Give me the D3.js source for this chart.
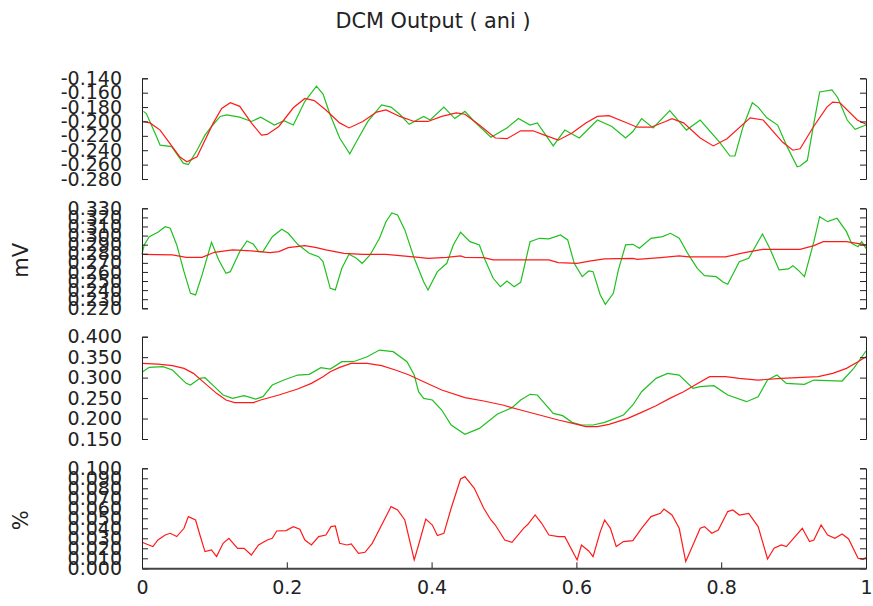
<!DOCTYPE html>
<html>
<head>
<meta charset="utf-8">
<script src="https://cdn.jsdelivr.net/npm/d3@7"></script>
<style>
  body { margin: 0; background: #fff; }
  text { font-family: "DejaVu Sans", sans-serif; fill: #222; }
</style>
</head>
<body>
<script>
// ---- data: [t, value] ----
var aniRed = [[0.002,-0.200],[0.011,-0.202],[0.025,-0.212],[0.052,-0.249],[0.062,-0.256],[0.076,-0.249],[0.098,-0.203],[0.110,-0.182],[0.122,-0.174],[0.135,-0.179],
  [0.151,-0.202],[0.165,-0.219],[0.173,-0.218],[0.189,-0.207],[0.209,-0.181],[0.225,-0.168],[0.238,-0.171],[0.254,-0.184],[0.273,-0.202],[0.286,-0.209],
  [0.305,-0.200],[0.324,-0.187],[0.337,-0.184],[0.356,-0.193],[0.376,-0.200],[0.395,-0.200],[0.414,-0.193],[0.434,-0.188],[0.446,-0.190],[0.466,-0.205],
  [0.488,-0.223],[0.504,-0.224],[0.523,-0.213],[0.540,-0.213],[0.556,-0.219],[0.575,-0.226],[0.594,-0.216],[0.613,-0.202],[0.629,-0.193],[0.645,-0.192],
  [0.665,-0.200],[0.684,-0.208],[0.703,-0.208],[0.723,-0.200],[0.732,-0.196],[0.748,-0.202],[0.771,-0.223],[0.789,-0.234],[0.808,-0.224],[0.840,-0.195],
  [0.858,-0.198],[0.885,-0.229],[0.899,-0.240],[0.909,-0.238],[0.927,-0.208],[0.946,-0.180],[0.954,-0.173],[0.964,-0.174],[0.988,-0.198],[1.000,-0.204]];
var aniGreen = [[0.002,-0.186],[0.006,-0.189],[0.020,-0.221],[0.025,-0.233],[0.041,-0.235],[0.057,-0.258],[0.064,-0.260],[0.076,-0.240],[0.087,-0.219],[0.096,-0.207],
  [0.108,-0.193],[0.117,-0.191],[0.135,-0.194],[0.151,-0.200],[0.164,-0.194],[0.183,-0.205],[0.196,-0.199],[0.209,-0.205],[0.225,-0.172],[0.241,-0.151],
  [0.250,-0.162],[0.260,-0.191],[0.273,-0.223],[0.287,-0.245],[0.299,-0.223],[0.312,-0.200],[0.331,-0.177],[0.344,-0.180],[0.357,-0.191],[0.369,-0.204],
  [0.389,-0.193],[0.398,-0.198],[0.417,-0.180],[0.432,-0.196],[0.446,-0.186],[0.459,-0.200],[0.482,-0.222],[0.504,-0.209],[0.520,-0.196],[0.536,-0.205],
  [0.546,-0.202],[0.568,-0.234],[0.584,-0.212],[0.604,-0.223],[0.629,-0.198],[0.649,-0.207],[0.668,-0.223],[0.678,-0.214],[0.690,-0.196],[0.706,-0.209],
  [0.729,-0.185],[0.752,-0.212],[0.771,-0.198],[0.798,-0.229],[0.812,-0.248],[0.819,-0.248],[0.830,-0.208],[0.843,-0.174],[0.851,-0.180],[0.863,-0.195],
  [0.878,-0.205],[0.891,-0.235],[0.905,-0.263],[0.909,-0.262],[0.919,-0.254],[0.927,-0.208],[0.936,-0.159],[0.953,-0.156],[0.961,-0.167],[0.974,-0.198],
  [0.985,-0.211],[1.000,-0.205]];

var mvRed = [[0,0.2794],[0.042,0.2787],[0.061,0.2761],[0.083,0.2761],[0.100,0.2816],[0.125,0.2842],[0.151,0.2831],[0.177,0.2812],[0.189,0.2823],[0.202,0.2867],
  [0.225,0.2889],[0.241,0.2867],[0.254,0.2842],[0.279,0.2805],[0.305,0.2794],[0.337,0.2794],[0.356,0.2779],[0.382,0.2761],[0.395,0.2750],[0.421,0.2761],
  [0.440,0.2776],[0.446,0.2761],[0.472,0.2757],[0.485,0.2732],[0.511,0.2732],[0.536,0.2732],[0.562,0.2732],[0.575,0.2702],[0.601,0.2695],[0.620,0.2721],
  [0.639,0.2743],[0.678,0.2750],[0.684,0.2739],[0.716,0.2757],[0.742,0.2776],[0.755,0.2765],[0.806,0.2765],[0.832,0.2812],[0.857,0.2849],[0.909,0.2849],
  [0.928,0.2889],[0.941,0.2933],[0.973,0.2933],[1.000,0.2897]];
var mvGreen = [[0,0.2794],[0.003,0.2897],[0.010,0.2988],[0.022,0.3036],[0.032,0.3098],[0.039,0.3080],[0.048,0.2897],[0.058,0.2603],[0.067,0.2365],[0.074,0.2347],
  [0.083,0.2567],[0.096,0.2926],[0.106,0.2732],[0.116,0.2585],[0.122,0.2603],[0.135,0.2823],[0.145,0.2941],[0.154,0.2904],[0.161,0.2823],[0.167,0.2823],
  [0.180,0.2988],[0.193,0.3069],[0.202,0.3025],[0.215,0.2904],[0.231,0.2805],[0.244,0.2768],[0.250,0.2713],[0.260,0.2420],[0.267,0.2402],[0.276,0.2640],
  [0.286,0.2794],[0.295,0.2757],[0.304,0.2695],[0.315,0.2787],[0.328,0.2970],[0.337,0.3153],[0.345,0.3249],[0.353,0.3227],[0.363,0.3062],[0.376,0.2750],
  [0.389,0.2493],[0.395,0.2402],[0.408,0.2603],[0.421,0.2695],[0.430,0.2897],[0.440,0.3036],[0.453,0.2933],[0.466,0.2897],[0.472,0.2768],[0.485,0.2530],
  [0.495,0.2438],[0.504,0.2501],[0.514,0.2438],[0.523,0.2486],[0.536,0.2933],[0.549,0.2970],[0.562,0.2963],[0.578,0.3007],[0.588,0.2952],[0.597,0.2695],
  [0.608,0.2548],[0.617,0.2611],[0.623,0.2603],[0.633,0.2347],[0.640,0.2244],[0.651,0.2365],[0.658,0.2622],[0.668,0.2897],[0.678,0.2904],[0.687,0.2860],
  [0.703,0.2970],[0.719,0.2988],[0.730,0.3025],[0.742,0.2970],[0.755,0.2787],[0.767,0.2640],[0.777,0.2559],[0.793,0.2548],[0.803,0.2486],[0.809,0.2464],
  [0.825,0.2713],[0.838,0.2750],[0.857,0.3018],[0.867,0.2860],[0.880,0.2622],[0.893,0.2633],[0.899,0.2669],[0.906,0.2622],[0.915,0.2548],[0.928,0.2933],
  [0.936,0.3208],[0.947,0.3153],[0.960,0.3190],[0.973,0.3043],[0.980,0.2915],[0.989,0.2878],[0.994,0.2933],[1.000,0.2860]];

var thirdRed = [[0,0.3349],[0.022,0.3332],[0.042,0.3292],[0.058,0.3226],[0.071,0.3104],[0.087,0.2860],[0.103,0.2616],[0.116,0.2453],[0.128,0.2388],[0.154,0.2388],
  [0.164,0.2453],[0.189,0.2575],[0.215,0.2722],[0.234,0.2860],[0.250,0.3023],[0.260,0.3145],[0.273,0.3251],[0.289,0.3349],[0.311,0.3349],[0.331,0.3292],
  [0.350,0.3186],[0.369,0.3063],[0.389,0.2901],[0.414,0.2697],[0.446,0.2510],[0.472,0.2428],[0.498,0.2331],[0.523,0.2208],[0.549,0.2086],[0.575,0.1964],
  [0.601,0.1858],[0.613,0.1801],[0.629,0.1801],[0.645,0.1858],[0.671,0.2005],[0.690,0.2151],[0.710,0.2314],[0.729,0.2493],[0.748,0.2656],[0.768,0.2860],
  [0.784,0.3023],[0.806,0.3023],[0.825,0.2982],[0.851,0.2941],[0.883,0.2982],[0.934,0.3023],[0.954,0.3104],[0.973,0.3226],[0.989,0.3389],[1.000,0.3511]];
var thirdGreen = [[0,0.3129],[0.010,0.3251],[0.029,0.3267],[0.042,0.3186],[0.061,0.2860],[0.067,0.2819],[0.080,0.2982],[0.087,0.2998],[0.100,0.2779],[0.112,0.2575],
  [0.125,0.2493],[0.141,0.2559],[0.157,0.2477],[0.167,0.2534],[0.180,0.2819],[0.196,0.2941],[0.215,0.3063],[0.231,0.3080],[0.247,0.3243],[0.260,0.3210],
  [0.276,0.3389],[0.292,0.3389],[0.311,0.3511],[0.328,0.3674],[0.347,0.3634],[0.366,0.3389],[0.376,0.3063],[0.382,0.2656],[0.389,0.2493],[0.401,0.2453],
  [0.414,0.2208],[0.427,0.1842],[0.446,0.1614],[0.466,0.1760],[0.491,0.2111],[0.511,0.2265],[0.523,0.2453],[0.536,0.2591],[0.546,0.2575],[0.556,0.2371],
  [0.568,0.2127],[0.581,0.2070],[0.594,0.1907],[0.607,0.1842],[0.623,0.1842],[0.639,0.1907],[0.665,0.2086],[0.678,0.2331],[0.690,0.2656],[0.710,0.2982],
  [0.726,0.3104],[0.742,0.3063],[0.761,0.2738],[0.771,0.2779],[0.790,0.2803],[0.809,0.2575],[0.835,0.2412],[0.851,0.2534],[0.864,0.2941],[0.877,0.3063],
  [0.890,0.2860],[0.915,0.2836],[0.928,0.2941],[0.967,0.2917],[0.983,0.3226],[1.000,0.3650]];

var pctRed = [[0,0.0260],[0.006,0.0243],[0.015,0.0217],[0.022,0.0283],[0.032,0.0333],[0.039,0.0350],[0.048,0.0317],[0.058,0.0400],[0.064,0.0517],[0.074,0.0483],
  [0.080,0.0333],[0.087,0.0167],[0.096,0.0183],[0.103,0.0117],[0.112,0.0250],[0.120,0.0300],[0.132,0.0200],[0.141,0.0200],[0.151,0.0133],[0.161,0.0233],
  [0.173,0.0283],[0.180,0.0300],[0.186,0.0373],[0.199,0.0377],[0.209,0.0417],[0.218,0.0390],[0.225,0.0283],[0.234,0.0233],[0.244,0.0317],[0.254,0.0333],
  [0.261,0.0417],[0.267,0.0423],[0.273,0.0250],[0.283,0.0233],[0.289,0.0243],[0.299,0.0150],[0.308,0.0160],[0.318,0.0250],[0.331,0.0433],[0.344,0.0617],
  [0.353,0.0583],[0.363,0.0483],[0.376,0.0083],[0.382,0.0233],[0.392,0.0493],[0.401,0.0433],[0.408,0.0327],[0.417,0.0350],[0.427,0.0600],[0.440,0.0893],
  [0.446,0.0917],[0.459,0.0800],[0.472,0.0600],[0.482,0.0483],[0.488,0.0433],[0.501,0.0283],[0.511,0.0260],[0.527,0.0400],[0.533,0.0440],[0.543,0.0533],
  [0.552,0.0450],[0.562,0.0333],[0.575,0.0317],[0.584,0.0317],[0.601,0.0083],[0.607,0.0233],[0.617,0.0173],[0.623,0.0117],[0.633,0.0367],[0.639,0.0483],
  [0.647,0.0400],[0.655,0.0217],[0.665,0.0267],[0.678,0.0277],[0.690,0.0400],[0.703,0.0517],[0.716,0.0550],[0.721,0.0593],[0.732,0.0533],[0.742,0.0400],
  [0.751,0.0067],[0.761,0.0233],[0.771,0.0400],[0.777,0.0417],[0.787,0.0350],[0.796,0.0383],[0.809,0.0567],[0.816,0.0583],[0.825,0.0533],[0.838,0.0550],
  [0.851,0.0417],[0.864,0.0093],[0.873,0.0200],[0.883,0.0233],[0.890,0.0217],[0.896,0.0267],[0.912,0.0400],[0.922,0.0267],[0.928,0.0283],[0.938,0.0433],
  [0.947,0.0333],[0.957,0.0300],[0.967,0.0343],[0.976,0.0293],[0.989,0.0100],[0.996,0.0090],[1.000,0.0107]];

var xTicks = [0, 0.2, 0.4, 0.6, 0.8, 1];
var aniTicks = [-0.14, -0.16, -0.18, -0.20, -0.22, -0.24, -0.26, -0.28];
var mvTicks = [0.33, 0.32, 0.31, 0.30, 0.29, 0.28, 0.27, 0.26, 0.25, 0.24, 0.23, 0.22];
var thirdTicks = [0.40, 0.35, 0.30, 0.25, 0.20, 0.15];
var pctTicks = [0, 0.01, 0.02, 0.03, 0.04, 0.05, 0.06, 0.07, 0.08, 0.09, 0.10];

var W = 873, H = 606;
var left = 142, right = 866;

var svg = d3.select("body").append("svg")
    .attr("width", W)
    .attr("height", H);

svg.append("text")
    .attr("x", 433).attr("y", 28)
    .attr("text-anchor", "middle")
    .style("font-size", "20.8px")
    .text("DCM Output ( ani )");

var x = d3.scaleLinear().domain([0, 1]).range([left, right]);

var panels = [
  {top: 78.3, bottom: 179, ticks: aniTicks, series: [aniRed, aniGreen], label: null},
  {top: 208.3, bottom: 308.3, ticks: mvTicks, series: [mvRed, mvGreen], label: "mV"},
  {top: 336.7, bottom: 439, ticks: thirdTicks, series: [thirdRed, thirdGreen], label: null},
  {top: 468.3, bottom: 568.3, ticks: pctTicks, series: [pctRed], label: "%"}
];
var colors = ["#ff1a1a", "#1fc01f"];

panels.forEach(function(p, i) {
    var ext = d3.extent(p.ticks);
    var y = d3.scaleLinear().domain(ext).range([p.bottom, p.top]);
    var g = svg.append("g");

    // green first, red on top
    p.series.slice().reverse().forEach(function(s, k) {
        var ci = p.series.length - 1 - k;
        g.append("path")
            .datum(s)
            .attr("fill", "none")
            .attr("stroke", colors[ci])
            .attr("stroke-width", 1.2)
            .attr("d", d3.line().x(function(d){return x(d[0]);}).y(function(d){return y(d[1]);}));
    });

    var la = g.append("g")
        .attr("transform", "translate(" + left + ",0)")
        .call(d3.axisLeft(y).tickValues(p.ticks).tickSize(-6).tickPadding(20)
            .tickFormat(function(d){ return d.toFixed(3); }));
    var ra = g.append("g")
        .attr("transform", "translate(" + right + ",0)")
        .call(d3.axisRight(y).tickValues(p.ticks).tickSize(-6).tickFormat(""));
    [la, ra].forEach(function(a) {
        a.selectAll("path, line").attr("stroke", "#222");
        a.selectAll("text").style("font-size", "19px").attr("fill", "#222")
            .style("font-family", "DejaVu Sans");
    });

    if (p.label) {
        svg.append("text")
            .attr("transform", "translate(28," + ((p.top + p.bottom) / 2 + 2) + ") rotate(-90)")
            .attr("text-anchor", "middle")
            .style("font-size", "21px")
            .text(p.label);
    }

    if (i === panels.length - 1) {
        var xa = g.append("g")
            .attr("transform", "translate(0," + p.bottom + ")")
            .call(d3.axisBottom(x).tickValues(xTicks).tickSize(-6).tickSizeOuter(0).tickPadding(12)
                .tickFormat(function(d){ return String(d); }));
        xa.select(".domain").attr("stroke", "#444").attr("stroke-width", 2);
        xa.selectAll("line").attr("stroke", "#222");
        xa.selectAll("text").style("font-size", "19px").attr("fill", "#222")
            .style("font-family", "DejaVu Sans");
    }
});
</script>
</body>
</html>
